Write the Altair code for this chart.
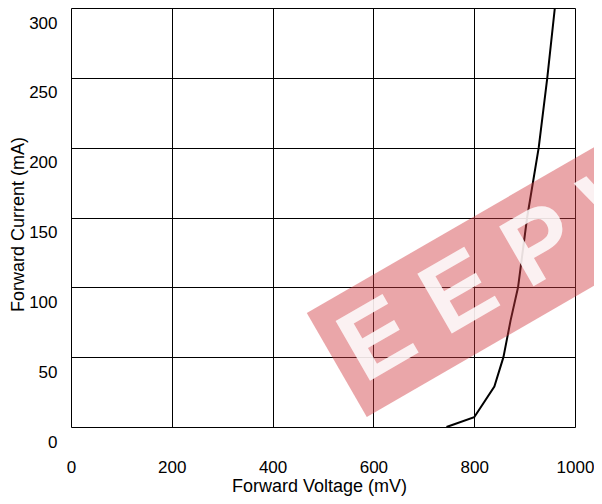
import altair as alt
import pandas as pd

# Forward voltage (mV) vs forward current (mA)
voltage_mv = [745, 800, 840, 858, 872, 887, 905, 928, 945, 960]
current_ma = [0, 7, 29, 50, 76, 100, 150, 200, 250, 300]

x_ticks = [0, 200, 400, 600, 800, 1000]
y_ticks = [0, 50, 100, 150, 200, 250, 300]

watermark_text = ["E E P W"]

df = pd.DataFrame({"V": voltage_mv, "I": current_ma})

FONT = "Liberation Sans"

x_enc = alt.X(
    "V:Q",
    scale=alt.Scale(domain=[0, 1000], nice=False, zero=False),
    axis=alt.Axis(
        values=x_ticks, format="d", title="Forward Voltage (mV)", grid=True,
        gridColor="black", gridOpacity=1, gridWidth=1, domain=False, ticks=False,
        tickSize=0, labelPadding=40, labelBaseline="middle", labelFontSize=17,
        labelFont=FONT, labelColor="black", titleFont=FONT, titleFontSize=18,
        titleFontWeight="normal", titleColor="black", titleY=59, titleX=248,
        titleBaseline="middle", labelFlush=False, labelOverlap=False,
    ),
)
y_enc = alt.Y(
    "I:Q",
    scale=alt.Scale(domain=[0, 300], nice=False),
    axis=alt.Axis(
        values=y_ticks, format="d", title="Forward Current (mA)", grid=True,
        gridColor="black", gridOpacity=1, gridWidth=1, domain=False, ticks=False,
        tickSize=0, labelPadding=14, labelOffset=15, labelBaseline="middle",
        labelFontSize=17, labelFont=FONT, labelColor="black", titleFont=FONT,
        titleFontSize=18, titleFontWeight="normal", titleColor="black",
        titleX=-53, titleY=216, titleBaseline="middle", titleAngle=270,
        labelFlush=False, labelOverlap=False,
    ),
)

curve = alt.Chart(df).mark_line(color="black", strokeWidth=2).encode(x=x_enc, y=y_enc)

wm_df = pd.DataFrame({"t": watermark_text})
band = alt.Chart(wm_df).mark_point(
    shape="M -1 -0.3 L 1 -0.3 L 1 0.3 L -1 0.3 Z",
    filled=True, size=160000, angle=330, color="#d03940", opacity=0.45,
    strokeWidth=0, clip=False,
).encode(x=alt.value(439), y=alt.value(257))

letters = alt.Chart(wm_df).mark_text(
    angle=330, fontSize=100, fontWeight="bold", font=FONT, color="white",
    opacity=0.85, align="center", baseline="middle", clip=False,
).encode(x=alt.value(441), y=alt.value(256), text="t:N")

chart = alt.layer(curve, band, letters).properties(
    width=504, height=419,
    autosize=alt.AutoSizeParams(type="none"),
    padding={"left": 63, "top": 0, "right": 19, "bottom": 69},
).configure_view(stroke="black", strokeWidth=2).configure(background="white")

chart.save("out.html", embed_options={"renderer": "svg", "actions": False})
